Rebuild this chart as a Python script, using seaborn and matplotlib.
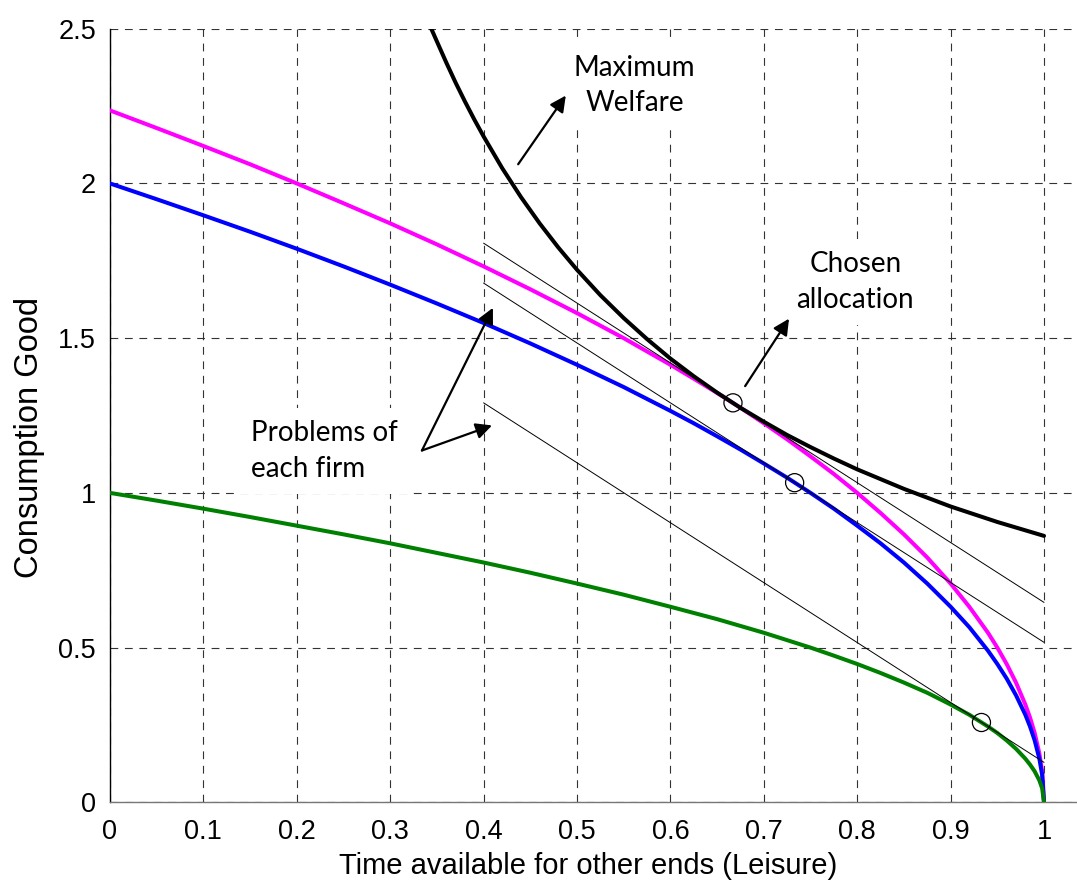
import matplotlib
matplotlib.use("Agg")
import matplotlib.pyplot as plt
import seaborn as sns

# ---- data ----
x_frontier = [0.0, 0.05, 0.1, 0.15, 0.2, 0.25, 0.3, 0.35, 0.4, 0.45, 0.5, 0.55, 0.6, 0.625, 0.65, 0.675,
              0.7, 0.725, 0.75, 0.775, 0.8, 0.825, 0.85, 0.875, 0.9, 0.92, 0.94, 0.95, 0.96, 0.97, 0.98,
              0.985, 0.99, 0.995, 0.998, 1.0]
magenta_y = [2.236, 2.179, 2.121, 2.062, 2.000, 1.936, 1.871, 1.803, 1.732, 1.658, 1.581, 1.500, 1.414,
             1.369, 1.323, 1.275, 1.225, 1.173, 1.118, 1.061, 1.000, 0.935, 0.866, 0.791, 0.707, 0.632,
             0.548, 0.500, 0.447, 0.387, 0.316, 0.274, 0.224, 0.158, 0.100, 0.0]
blue_y = [2.000, 1.949, 1.897, 1.844, 1.789, 1.732, 1.673, 1.612, 1.549, 1.483, 1.414, 1.342, 1.265,
          1.225, 1.183, 1.140, 1.095, 1.049, 1.000, 0.949, 0.894, 0.837, 0.775, 0.707, 0.632, 0.566,
          0.490, 0.447, 0.400, 0.346, 0.283, 0.245, 0.200, 0.141, 0.089, 0.0]
green_y = [1.000, 0.975, 0.949, 0.922, 0.894, 0.866, 0.837, 0.806, 0.775, 0.742, 0.707, 0.671, 0.632,
           0.612, 0.592, 0.570, 0.548, 0.524, 0.500, 0.474, 0.447, 0.418, 0.387, 0.354, 0.316, 0.283,
           0.245, 0.224, 0.200, 0.173, 0.141, 0.122, 0.100, 0.071, 0.045, 0.0]

x_welfare = [0.344, 0.35, 0.36, 0.37, 0.38, 0.39, 0.40, 0.42, 0.44, 0.46, 0.48, 0.50, 0.525, 0.55, 0.575,
             0.6, 0.625, 0.65, 0.675, 0.7, 0.725, 0.75, 0.775, 0.8, 0.85, 0.9, 0.95, 1.0]
welfare_y = [2.500, 2.459, 2.391, 2.326, 2.265, 2.207, 2.152, 2.049, 1.956, 1.871, 1.793, 1.721, 1.639,
             1.565, 1.497, 1.434, 1.377, 1.324, 1.275, 1.230, 1.187, 1.148, 1.111, 1.076, 1.013, 0.956,
             0.906, 0.861]

x_tangent = [0.4, 1.0]
tangent1_y = [1.807, 0.646]
tangent2_y = [1.678, 0.517]
tangent3_y = [1.291, 0.129]

points_x = [0.667, 0.733, 0.933]
points_y = [1.291, 1.033, 0.258]

x_ticks = [0, 0.1, 0.2, 0.3, 0.4, 0.5, 0.6, 0.7, 0.8, 0.9, 1]
x_tick_labels = ["0", "0.1", "0.2", "0.3", "0.4", "0.5", "0.6", "0.7", "0.8", "0.9", "1"]
y_ticks = [0, 0.5, 1, 1.5, 2, 2.5]
y_tick_labels = ["0", "0.5", "1", "1.5", "2", "2.5"]

# ---- style ----
sns.set_style("white")
plt.rcParams["font.family"] = ["Liberation Sans", "DejaVu Sans"]
plt.rcParams["axes.labelcolor"] = "black"
plt.rcParams["text.color"] = "black"

fig = plt.figure(figsize=(10.77, 8.81), dpi=100)
ax = fig.add_axes([0.1021, 0.0893, 0.8979, 0.8781])

curve_w = 2.9
sns.lineplot(x=x_frontier, y=magenta_y, ax=ax, color="#FF00FF", lw=curve_w, sort=False, estimator=None, zorder=4)
sns.lineplot(x=x_frontier, y=blue_y, ax=ax, color="#0000FF", lw=curve_w, sort=False, estimator=None, zorder=4)
sns.lineplot(x=x_frontier, y=green_y, ax=ax, color="#008000", lw=curve_w, sort=False, estimator=None, zorder=4)
sns.lineplot(x=x_welfare, y=welfare_y, ax=ax, color="black", lw=curve_w, sort=False, estimator=None, zorder=5)
for ty in (tangent1_y, tangent2_y, tangent3_y):
    sns.lineplot(x=x_tangent, y=ty, ax=ax, color="black", lw=0.7, sort=False, estimator=None, zorder=4.5)

ax.scatter(points_x, points_y, s=170, facecolors="none", edgecolors="black", linewidths=0.9, zorder=6)

ax.set_xlim(0, 1.0353)
ax.set_ylim(0, 2.5)
ax.set_xticks(x_ticks)
ax.set_xticklabels(x_tick_labels)
ax.set_yticks(y_ticks)
ax.set_yticklabels(y_tick_labels)
ax.tick_params(axis="both", length=0, labelsize=19.5, colors="black")
ax.tick_params(axis="x", pad=12)
ax.tick_params(axis="y", pad=10)

ax.grid(True, linestyle=(0, (7, 6)), color="#333333", lw=0.8)
ax.set_axisbelow(True)
for s in ("top", "right"):
    ax.spines[s].set_visible(False)
ax.spines["left"].set_color("black")
ax.spines["left"].set_linewidth(1.0)
ax.spines["bottom"].set_color("#777777")
ax.spines["bottom"].set_linewidth(1.0)

ax.set_xlabel("Time available for other ends (Leisure)", fontsize=21, color="black")
ax.set_ylabel("Consumption Good", fontsize=23.5, color="black")
ax.xaxis.set_label_coords(0.494, -0.064)
ax.yaxis.set_label_coords(-0.067, 0.472)

# ---- annotations ----
note_font = dict(family=["Lato", "DejaVu Sans"], fontsize=20, color="black")
box = dict(boxstyle="square,pad=0.45", facecolor="white", edgecolor="none")
ax.text(0.5615, 2.316, "Maximum\nWelfare", ha="center", va="center", linespacing=1.45,
        bbox=box, zorder=3, **note_font)
ax.text(0.798, 1.682, "Chosen\nallocation", ha="center", va="center", linespacing=1.45,
        bbox=box, zorder=3, **note_font)
ax.text(0.1506, 1.135, "Problems of\neach firm", ha="left", va="center", linespacing=1.45,
        bbox=box, zorder=3, **note_font)

arrow = dict(arrowstyle="-|>", color="black", lw=1.6, mutation_scale=24, shrinkA=0, shrinkB=0)
ax.annotate("", xy=(0.488, 2.284), xytext=(0.437, 2.062), arrowprops=arrow, zorder=7)
ax.annotate("", xy=(0.727, 1.563), xytext=(0.680, 1.345), arrowprops=arrow, zorder=7)
ax.annotate("", xy=(0.410, 1.598), xytext=(0.334, 1.137), arrowprops=arrow, zorder=7)
ax.annotate("", xy=(0.409, 1.218), xytext=(0.334, 1.137), arrowprops=arrow, zorder=7)

fig.savefig("out.png", dpi=100, facecolor="white")
